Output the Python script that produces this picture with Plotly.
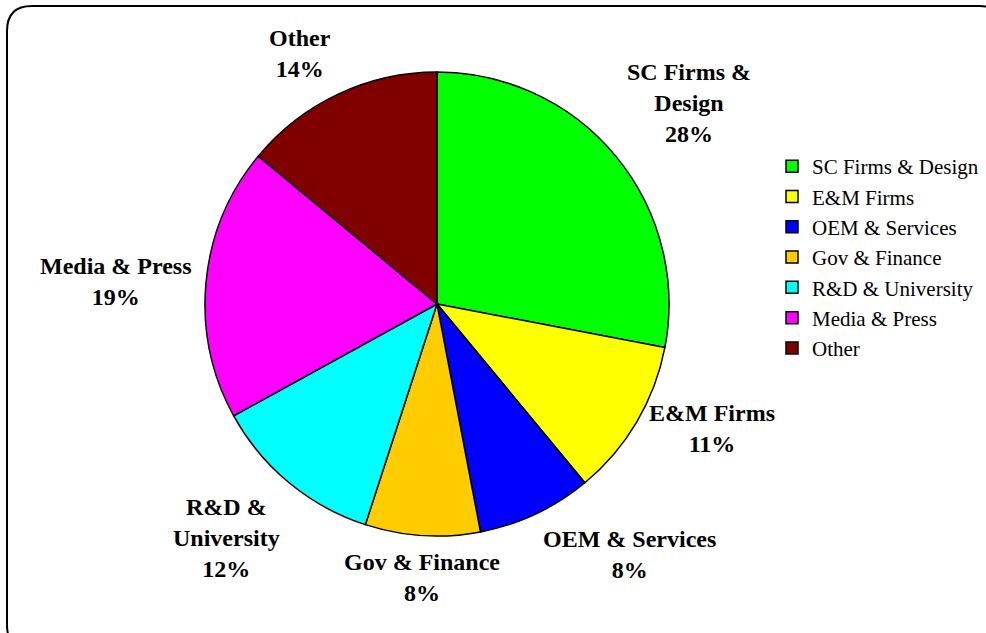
import math
import plotly.graph_objects as go

categories = ["SC Firms & Design", "E&M Firms", "OEM & Services", "Gov & Finance",
              "R&D & University", "Media & Press", "Other"]
display_labels = ["SC Firms &<br>Design", "E&M Firms", "OEM & Services", "Gov & Finance",
                  "R&D &<br>University", "Media & Press", "Other"]
values = [28, 11, 8, 8, 12, 19, 14]
colors = ["#00FF00", "#FFFF00", "#0000FF", "#FFCC00", "#00FFFF", "#FF00FF", "#800000"]

W, H = 986, 633
cx, cy, R = 437, 304, 232

fig = go.Figure()
fig.add_trace(go.Pie(
    labels=categories, values=values, sort=False, direction="clockwise", rotation=0,
    marker=dict(colors=colors, line=dict(color="black", width=1.5)),
    textinfo="none", hoverinfo="label+percent",
    domain=dict(x=[(cx - R) / W, (cx + R) / W], y=[(H - cy - R) / H, (H - cy + R) / H]),
))

total = sum(values)
cum = 0
annotations = []
for lab, v in zip(display_labels, values):
    mid = (cum + v / 2) / total * 2 * math.pi
    cum += v
    s, c = math.sin(mid), math.cos(mid)
    px = cx + R * 1.05 * s
    py = cy - R * 1.05 * c
    xa = "left" if s > 0.3 else ("right" if s < -0.3 else "center")
    ya = "bottom" if c > 0.6 else ("top" if c < -0.6 else "middle")
    pct = round(v / total * 100)
    annotations.append(dict(
        x=px / W, y=1 - py / H, xref="paper", yref="paper",
        text=f"<b>{lab}<br>{pct}%</b>", showarrow=False, align="center",
        xanchor=xa, yanchor=ya,
        font=dict(family="Liberation Serif", size=24, color="black"),
    ))

# rounded border
x0, y0, x1, y1, r = 7, 6, 1005, 650, 25
def P(x, y):
    return f"{x / W:.5f},{1 - y / H:.5f}"
path = (f"M {P(x0 + r, y0)} L {P(x1 - r, y0)} Q {P(x1, y0)} {P(x1, y0 + r)} "
        f"L {P(x1, y1 - r)} Q {P(x1, y1)} {P(x1 - r, y1)} "
        f"L {P(x0 + r, y1)} Q {P(x0, y1)} {P(x0, y1 - r)} "
        f"L {P(x0, y0 + r)} Q {P(x0, y0)} {P(x0 + r, y0)} Z")

fig.update_layout(
    width=W, height=H, margin=dict(l=0, r=0, t=0, b=0),
    paper_bgcolor="white", plot_bgcolor="white",
    annotations=annotations,
    shapes=[dict(type="path", path=path, xref="paper", yref="paper",
                 line=dict(color="black", width=2), layer="above")],
    legend=dict(x=772 / W, y=1 - 146 / H, xanchor="left", yanchor="top",
                font=dict(family="Liberation Serif", size=21, color="black"),
                bgcolor="rgba(0,0,0,0)"),
    showlegend=True,
)
fig.write_html("out.html", config={"displayModeBar": False},
               post_script="document.body.style.margin='0';document.body.style.overflow='hidden';")
